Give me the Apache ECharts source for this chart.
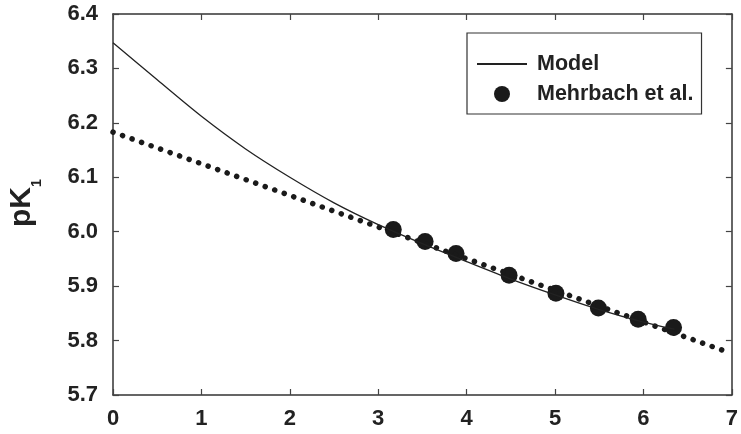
<!DOCTYPE html>
<html>
<head>
<meta charset="utf-8">
<script src="https://cdn.jsdelivr.net/npm/echarts@6/dist/echarts.min.js"></script>
<style>
  html, body { margin: 0; padding: 0; background: #fff; }
  #chart { width: 741px; height: 434px; }
</style>
</head>
<body>
<div id="chart"></div>
<script>
// model curve (x, pK1)
const modelX = [0, 0.5, 1, 1.5, 2, 2.5, 3, 3.5, 4, 4.5, 5, 5.5, 6, 6.35];
const modelY = [6.347, 6.279, 6.212, 6.152, 6.100, 6.053, 6.013, 5.978, 5.945, 5.913, 5.884, 5.857, 5.834, 5.821];

// Mehrbach et al. points
const obsX = [3.17, 3.53, 3.88, 4.48, 5.01, 5.49, 5.94, 6.34];
const obsY = [6.004, 5.982, 5.960, 5.920, 5.887, 5.860, 5.839, 5.824];

// dotted fit line endpoints
const fitX = [0, 6.95];
const fitY = [6.183, 5.779];

const xTicks = [0, 1, 2, 3, 4, 5, 6, 7];
const yTicks = [5.7, 5.8, 5.9, 6.0, 6.1, 6.2, 6.3, 6.4];

const font = 'Liberation Sans, Arial, sans-serif';
const ink = '#222';

const zip = (xs, ys) => xs.map((x, i) => [x, ys[i]]);

const axisBase = {
  type: 'value',
  axisLine: { show: true, onZero: false, lineStyle: { color: '#333', width: 1.5 } },
  axisTick: { show: true, inside: true, length: 6, lineStyle: { color: '#444', width: 1.2 } },
  splitLine: { show: false }
};

const chart = echarts.init(document.getElementById('chart'));
chart.setOption({
  animation: false,
  backgroundColor: '#fff',
  grid: { left: 113, right: 3, top: 14, bottom: 39 },
  xAxis: [
    Object.assign({}, axisBase, {
      position: 'bottom', min: xTicks[0], max: xTicks[xTicks.length - 1], interval: 1,
      axisLabel: { margin: 13, fontSize: 22, fontWeight: 'bold', color: ink, fontFamily: font }
    }),
    Object.assign({}, axisBase, {
      position: 'top', min: xTicks[0], max: xTicks[xTicks.length - 1], interval: 1,
      axisLabel: { show: false }
    })
  ],
  yAxis: [
    Object.assign({}, axisBase, {
      position: 'left', min: yTicks[0], max: yTicks[yTicks.length - 1], interval: 0.1,
      axisLabel: { margin: 15, fontSize: 22, fontWeight: 'bold', color: ink, fontFamily: font,
        formatter: v => v.toFixed(1) }
    }),
    Object.assign({}, axisBase, {
      position: 'right', min: yTicks[0], max: yTicks[yTicks.length - 1], interval: 0.1,
      axisLabel: { show: false }
    })
  ],
  legend: {
    data: [
      { name: 'Model', itemStyle: { opacity: 0 } },
      { name: 'Mehrbach et al.' }
    ],
    orient: 'vertical',
    left: 467, top: 33,
    padding: [20, 8, 9, 9],
    itemWidth: 50, itemHeight: 16, itemGap: 8,
    borderColor: '#333', borderWidth: 1.2,
    textStyle: { fontSize: 21.5, fontWeight: 'bold', color: ink, fontFamily: font, padding: [0, 0, 0, 5] }
  },
  graphic: [
    {
      type: 'text', x: 22, y: 207, rotation: Math.PI / 2,
      style: { text: 'pK', fontSize: 30, fontWeight: 'bold', fontFamily: font, fill: ink,
        align: 'center', verticalAlign: 'middle' }
    },
    {
      type: 'text', x: 37, y: 183, rotation: Math.PI / 2,
      style: { text: '1', fontSize: 14, fontWeight: 'bold', fontFamily: font, fill: ink,
        align: 'center', verticalAlign: 'middle' }
    }
  ],
  series: [
    {
      name: 'fit', type: 'line', data: zip(fitX, fitY),
      symbol: 'none', silent: true,
      lineStyle: { color: '#1a1a1a', width: 5.5, type: [0.1, 10], cap: 'round' }
    },
    {
      name: 'Model', type: 'line', data: zip(modelX, modelY),
      symbol: 'none', smooth: 0.3, silent: true,
      itemStyle: { color: '#222' },
      lineStyle: { color: '#222', width: 1.3 }
    },
    {
      name: 'Mehrbach et al.', type: 'scatter', data: zip(obsX, obsY),
      symbol: 'circle', symbolSize: 17, silent: true,
      itemStyle: { color: '#1a1a1a', opacity: 1 }
    }
  ]
});
</script>
</body>
</html>
